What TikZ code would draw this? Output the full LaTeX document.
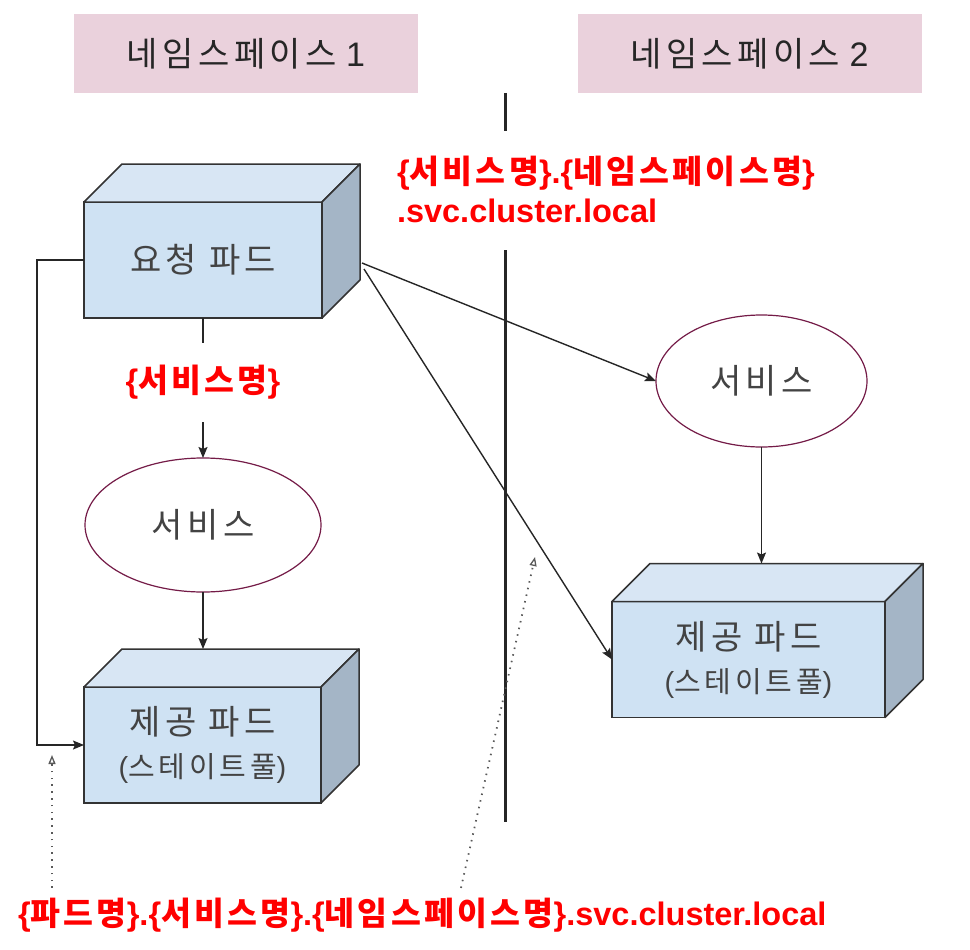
\documentclass[tikz,border=0pt]{standalone}
\usepackage{fontspec}
\setmainfont{Liberation Sans}
\newfontfamily\kr[LetterSpace=13]{Noto Sans CJK KR}
\newfontfamily\krb[LetterSpace=10]{Noto Sans CJK KR}
\usetikzlibrary{arrows.meta}
\usetikzlibrary{positioning}
\usetikzlibrary{shapes.geometric}

\definecolor{nsfill}{HTML}{EAD1DC}
\definecolor{podfront}{HTML}{CFE2F3}
\definecolor{podtop}{HTML}{D8E6F4}
\definecolor{podside}{HTML}{A4B5C6}
\definecolor{podline}{HTML}{333333}
\definecolor{svcline}{HTML}{741B47}
\definecolor{txtgray}{HTML}{434343}

% pod = front face node, top and side faces drawn behind it
\newcommand{\podbox}[4]{%
  \node[pod, minimum width=#3pt] (#1) at #2 {#4};
  \draw[podface, fill=podtop]  (#1.north west) -- ++(38,-38) -- ++(#3,0) -- (#1.north east) -- cycle;
  \draw[podface, fill=podside] (#1.north east) -- ++(38,-38) -- ++(0,116) -- (#1.south east) -- cycle;
  \coordinate (#1-back) at ([shift={(19,-38)}]#1.north);
}

\begin{document}
\begin{tikzpicture}[x=1pt,y=-1pt,
  every node/.style={inner sep=0pt,outer sep=0pt},
  ns/.style={fill=nsfill,minimum width=344pt,minimum height=79pt,font=\fontsize{34}{40}\selectfont,text=black!85},
  pod/.style={draw=podline,line width=1.5pt,fill=podfront,minimum height=116pt,align=center,
    font=\fontsize{34}{41}\selectfont,text=txtgray},
  podface/.style={draw=podline,line width=1.5pt,line join=round},
  svc/.style={ellipse,draw=svcline,line width=1.2pt,fill=white,font=\fontsize{34}{40}\selectfont,text=txtgray},
  redlbl/.style={text=red,font=\fontsize{32.5}{39}\selectfont\bfseries},
  sep/.style={line width=3pt,draw=black!85},
  plain/.style={line width=1.4pt,draw=black!85},
  link/.style={plain,-{Stealth[length=11pt,width=9pt,inset=2pt]}},
  dotlink/.style={line width=1.8pt,draw=black!65,dash pattern=on 1.5pt off 5.3pt,
    -{Triangle[open,length=9pt,width=7pt,line width=1.3pt]}}]

  \useasboundingbox (0,0) rectangle (970,950);

  % namespaces
  \node[ns] (ns1) at (246,53.5) {{\kr 네임스페이스} 1};
  \node[ns] (ns2) at (749.5,53.5) {{\kr 네임스페이스} 2};

  % separator
  \draw[sep] (505,93) -- (505,131);
  \draw[sep] (505,250) -- (505,822);

  % namespace 1
  \podbox{req}{(203,260)}{238}{{\kr 요청 파드}}
  \node[redlbl,minimum height=79pt] (svcname) at (203,382.5) {\{{\krb 서비스명}\}};
  \node[svc,minimum width=236pt,minimum height=134pt] (svc1) at (203,525) {{\kr 서비스}};
  \podbox{prov1}{(202.5,745)}{237}{{\kr 제공 파드}\\[2pt]{\fontsize{29}{34}\selectfont({\kr 스테이트풀})}}

  % namespace 2
  \node[svc,minimum width=211pt,minimum height=132pt] (svc2) at (761.5,381) {{\kr 서비스}};
  \podbox{prov2}{(748.5,659.5)}{273}{{\kr 제공 파드}\\[2pt]{\fontsize{29}{34}\selectfont({\kr 스테이트풀})}}

  % dns names
  \node[redlbl,align=left,anchor=west] (fqdnsvc) at (397,189)
    {\{{\krb 서비스명}\}.\{{\krb 네임스페이스명}\}\\.svc.cluster.local};
  \node[redlbl,anchor=west,outer ysep=10pt] (fqdn) at (18,915)
    {\{{\krb 파드명}\}.\{{\krb 서비스명}\}.\{{\krb 네임스페이스명}\}.svc.cluster.local};

  % links
  \draw[plain] (req) -- (svcname);
  \draw[link] (svcname) -- (svc1);
  \draw[link] (svc1) -- (svc1.south |- prov1-back);
  \draw[link] (req.west) -- ++(-47,0) |- (prov1.west);
  \draw[link] ([shift={(40,3)}]req.east) -- (svc2.west);
  \draw[link] ([shift={(42,9)}]req.east) -- (prov2.west);
  \draw[link] (svc2) -- (svc2.south |- prov2-back);

  % hints
  \coordinate (hintpod) at (52,755);
  \coordinate (hintsvc) at (535,557);
  \draw[dotlink] (fqdn.north -| hintpod) -- (hintpod);
  \draw[dotlink] (fqdn.north -| 461,0) -- (hintsvc);
\end{tikzpicture}
\end{document}
